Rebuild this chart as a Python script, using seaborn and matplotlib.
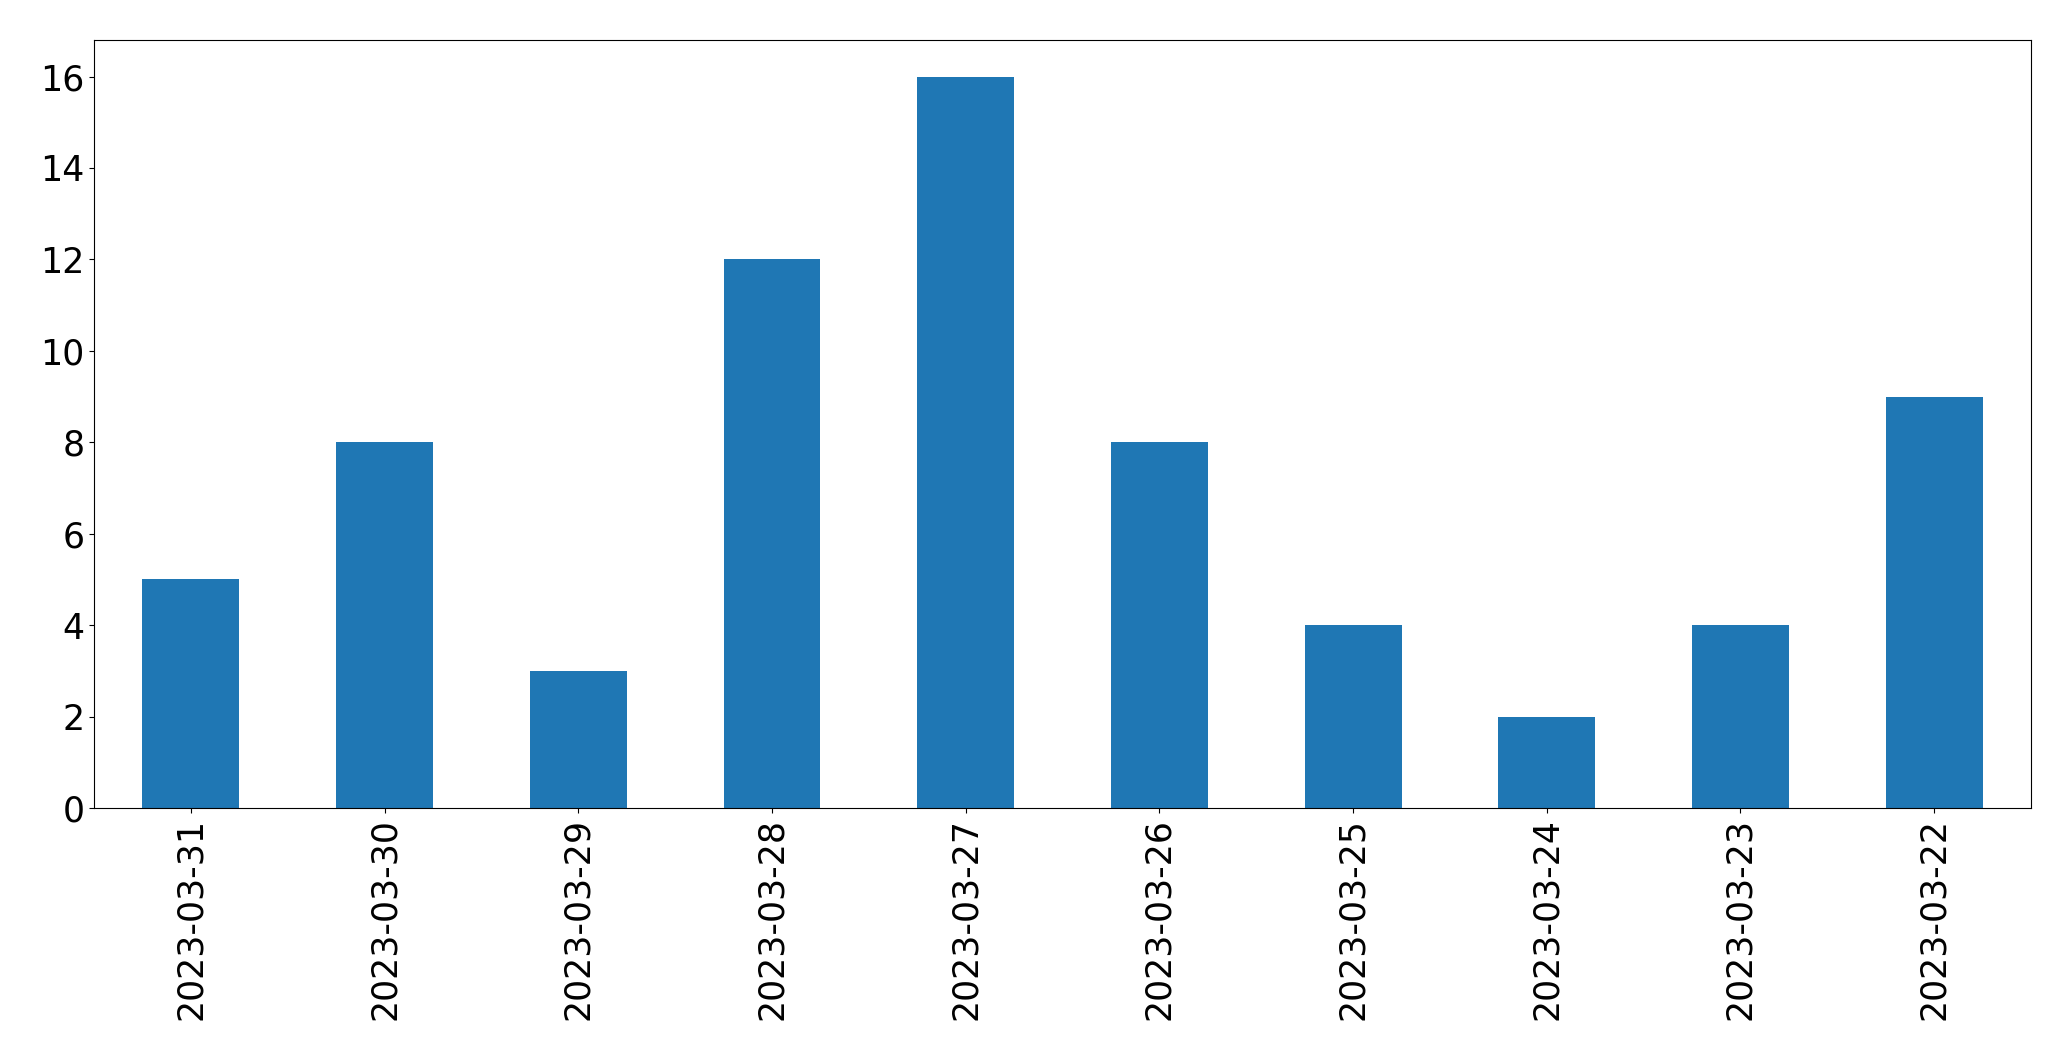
import pandas as pd
import matplotlib
matplotlib.use("Agg")
import matplotlib.pyplot as plt
import seaborn as sns

# -----------------------------------------------------------------------------
# Data
# -----------------------------------------------------------------------------
dates = ["2023-03-31", "2023-03-30", "2023-03-29", "2023-03-28", "2023-03-27",
         "2023-03-26", "2023-03-25", "2023-03-24", "2023-03-23", "2023-03-22"]
counts = [5, 8, 3, 12, 16, 8, 4, 2, 4, 9]

df = pd.DataFrame({"date": dates, "count": counts})

# -----------------------------------------------------------------------------
# Plot
# -----------------------------------------------------------------------------
plt.rcParams["font.size"] = 25

fig, ax = plt.subplots(figsize=(20.71, 10.61), dpi=100)
fig.subplots_adjust(left=0.0454, right=0.9807, top=0.9623, bottom=0.2385)

sns.barplot(x="date", y="count", data=df, order=dates, color="#1f77b4",
            saturation=1, width=0.5, ax=ax)

ax.set_xlim(-0.5, len(dates) - 0.5)
ax.set_ylim(0, max(counts) * 1.05)
ax.set(xlabel="", ylabel="")
ax.tick_params(axis="x", rotation=90)

plt.savefig("out.png", dpi=100)
